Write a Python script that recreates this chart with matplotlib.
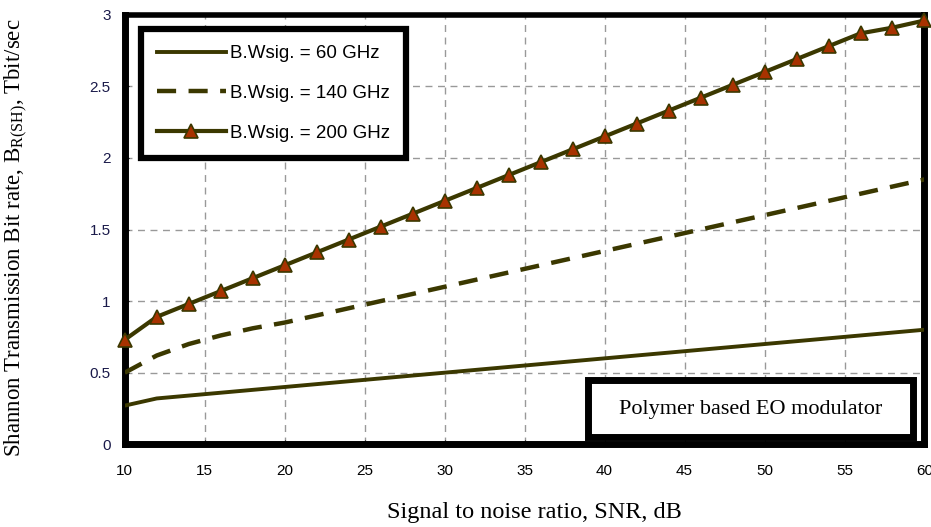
import numpy as np
import matplotlib.pyplot as plt
from matplotlib.patches import Rectangle

plt.rcParams.update({'font.family': ['Liberation Sans Narrow', 'Liberation Sans']})

snr = [10, 12, 14, 16, 18, 20, 22, 24, 26, 28, 30, 32, 34, 36, 38, 40,
       42, 44, 46, 48, 50, 52, 54, 56, 58, 60]
bw60 = [0.27, 0.32, 0.34, 0.36, 0.38, 0.40, 0.42, 0.44, 0.46, 0.48, 0.50,
        0.52, 0.54, 0.56, 0.58, 0.60, 0.62, 0.64, 0.66, 0.68, 0.70, 0.72,
        0.74, 0.76, 0.78, 0.80]
bw140 = [0.50, 0.62, 0.70, 0.76, 0.81, 0.85, 0.90, 0.95, 1.00, 1.05, 1.10,
         1.15, 1.20, 1.25, 1.30, 1.35, 1.40, 1.45, 1.50, 1.55, 1.60, 1.65,
         1.70, 1.75, 1.80, 1.85]
bw200 = [0.73, 0.89, 0.98, 1.07, 1.16, 1.25, 1.34, 1.43, 1.52, 1.61, 1.70,
         1.79, 1.88, 1.97, 2.06, 2.15, 2.24, 2.33, 2.42, 2.51, 2.60, 2.69,
         2.78, 2.87, 2.91, 2.96]
labels = ['B.Wsig. = 60 GHz', 'B.Wsig. = 140 GHz', 'B.Wsig. = 200 GHz']

olive = '#3b3800'
rust = '#a83200'

fig = plt.figure(figsize=(9.31, 5.27), dpi=100)
ax = fig.add_axes([0.134, 0.157, 0.859, 0.815])

ax.plot(snr, bw60, color=olive, lw=2.8, label=labels[0], zorder=3)
ax.plot(snr, bw140, color=olive, lw=3.2, ls=(0, (4.3, 2.8)), label=labels[1], zorder=3)
ax.plot(snr, bw200, color=olive, lw=3.0, marker='^', ms=10, mfc=rust,
        mec=olive, mew=1.2, label=labels[2], zorder=4, clip_on=False)

ax.set_xlim(10, 60)
ax.set_ylim(0, 3)
ax.set_xticks(np.arange(10, 61, 5))
ax.set_yticks([0, 0.5, 1, 1.5, 2, 2.5, 3])
ax.set_yticklabels(['0', '0.5', '1', '1.5', '2', '2.5', '3'])
ax.grid(True, color='#999999', ls=(0, (5, 4)), lw=1.0)
ax.tick_params(axis='x', length=3, pad=14, labelsize=11, direction='in')
ax.tick_params(axis='y', length=3, pad=10, labelsize=11, direction='in')
for t in ax.get_yticklabels():
    t.set_color('#1a1a4a')

ax.spines['left'].set_linewidth(5)
ax.spines['bottom'].set_linewidth(5)
ax.spines['top'].set_linewidth(4)
ax.spines['right'].set_linewidth(5)

ax.set_xlabel('Signal to noise ratio, SNR, dB', family='Liberation Serif',
              fontsize=17.5)
ax.xaxis.set_label_coords(0.512, -0.135)
ax.set_ylabel('Shannon Transmission Bit rate, B$_{\\mathregular{R(SH)}}$, Tbit/sec',
              family='Liberation Serif', fontsize=16.5)
ax.yaxis.set_label_coords(-0.119, 0.48)

leg = ax.legend(loc='upper left', bbox_to_anchor=(0.02, 0.966), borderaxespad=0,
                fancybox=False, edgecolor='black', fontsize=13.5, handlelength=3.7,
                handletextpad=0.2, labelspacing=1.2, borderpad=0.85, framealpha=1)
leg.get_frame().set_linewidth(4.5)

ax.add_patch(Rectangle((0.579, 0.016), 0.407, 0.133, transform=ax.transAxes,
                       fc='white', ec='black', lw=5, zorder=5))
ax.text(0.782, 0.082, 'Polymer based EO modulator', transform=ax.transAxes,
        family='Liberation Serif', fontsize=16, ha='center', va='center', zorder=6)

fig.savefig('out.png', dpi=100)
